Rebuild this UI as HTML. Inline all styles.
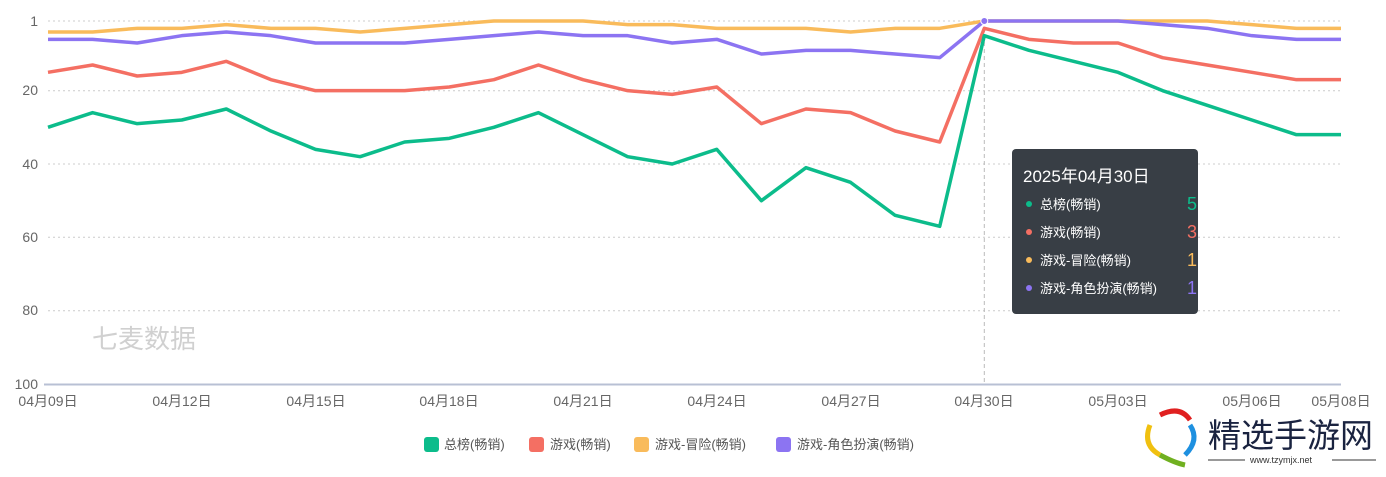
<!DOCTYPE html>
<html><head><meta charset="utf-8"><style>
body{margin:0;background:#fff;width:1386px;height:472px;overflow:hidden;font-family:"Liberation Sans","Noto Sans CJK SC",sans-serif;}
svg text{font-family:"Liberation Sans","Noto Sans CJK SC",sans-serif;}
</style></head><body>
<svg width="1386" height="472" viewBox="0 0 1386 472" xmlns="http://www.w3.org/2000/svg">
<g stroke="#ccc" stroke-dasharray="2,3" stroke-width="1">
<line x1="48" y1="21" x2="1341" y2="21"/>
<line x1="48" y1="90.7" x2="1341" y2="90.7"/>
<line x1="48" y1="164" x2="1341" y2="164"/>
<line x1="48" y1="237.3" x2="1341" y2="237.3"/>
<line x1="48" y1="310.7" x2="1341" y2="310.7"/>
</g>
<line x1="44" y1="384.5" x2="1341" y2="384.5" stroke="#b8c0d4" stroke-width="2"/>
<g font-size="14" fill="#666" text-anchor="end">
<text x="38" y="26">1</text><text x="38" y="95">20</text><text x="38" y="169">40</text><text x="38" y="242">60</text><text x="38" y="315">80</text><text x="38" y="389">100</text>
</g>
<g font-size="14" fill="#666" text-anchor="middle">
<text x="48" y="406">04月09日</text><text x="182" y="406">04月12日</text><text x="316" y="406">04月15日</text><text x="449" y="406">04月18日</text><text x="583" y="406">04月21日</text><text x="717" y="406">04月24日</text><text x="851" y="406">04月27日</text><text x="984" y="406">04月30日</text><text x="1118" y="406">05月03日</text><text x="1252" y="406">05月06日</text><text x="1341" y="406">05月08日</text>
</g>
<text x="92" y="348" font-size="26" fill="#d0d0d0">七麦数据</text>
<line x1="984.3" y1="21" x2="984.3" y2="384" stroke="#bbb" stroke-dasharray="4,3"/>
<g transform="translate(48,17.33) scale(44.586,3.667)" fill="none" stroke-linejoin="round">
<polyline vector-effect="non-scaling-stroke" stroke="#f9bb5b" stroke-width="3.5" points="0,4 1,4 2,3 3,3 4,2 5,3 6,3 7,4 8,3 9,2 10,1 11,1 12,1 13,2 14,2 15,3 16,3 17,3 18,4 19,3 20,3 21,1 22,1 23,1 24,1 25,1 26,1 27,2 28,3 29,3"/>
<polyline vector-effect="non-scaling-stroke" stroke="#8c74f2" stroke-width="3.5" points="0,6 1,6 2,7 3,5 4,4 5,5 6,7 7,7 8,7 9,6 10,5 11,4 12,5 13,5 14,7 15,6 16,10 17,9 18,9 19,10 20,11 21,1 22,1 23,1 24,1 25,2 26,3 27,5 28,6 29,6"/>
<polyline vector-effect="non-scaling-stroke" stroke="#f46f63" stroke-width="3.5" points="0,15 1,13 2,16 3,15 4,12 5,17 6,20 7,20 8,20 9,19 10,17 11,13 12,17 13,20 14,21 15,19 16,29 17,25 18,26 19,31 20,34 21,3 22,6 23,7 24,7 25,11 26,13 27,15 28,17 29,17"/>
<polyline vector-effect="non-scaling-stroke" stroke="#0cbc8b" stroke-width="3.5" points="0,30 1,26 2,29 3,28 4,25 5,31 6,36 7,38 8,34 9,33 10,30 11,26 12,32 13,38 14,40 15,36 16,50 17,41 18,45 19,54 20,57 21,5 22,9 23,12 24,15 25,20 26,24 27,28 28,32 29,32"/>
</g>
<circle cx="984.3" cy="21" r="3.5" fill="#8c74f2" stroke="#fff"/>
<rect x="1012" y="149" width="186" height="165" rx="4" fill="#383e45"/>
<text x="1023" y="182" font-size="17" fill="#fff">2025年04月30日</text>
<g font-size="13" fill="#fff">
<circle cx="1029" cy="204" r="3" fill="#0cbc8b"/><text x="1040" y="209">总榜(畅销)</text>
<circle cx="1029" cy="232" r="3" fill="#f46f63"/><text x="1040" y="237">游戏(畅销)</text>
<circle cx="1029" cy="260" r="3" fill="#f9bb5b"/><text x="1040" y="265">游戏-冒险(畅销)</text>
<circle cx="1029" cy="288" r="3" fill="#8c74f2"/><text x="1040" y="293">游戏-角色扮演(畅销)</text>
</g>
<g font-size="18" text-anchor="middle">
<text x="1192" y="210" fill="#0cbc8b">5</text><text x="1192" y="238" fill="#f46f63">3</text><text x="1192" y="266" fill="#f9bb5b">1</text><text x="1192" y="294" fill="#8c74f2">1</text>
</g>
<g font-size="13" fill="#555">
<rect x="424" y="437" width="15" height="15" rx="3" fill="#0cbc8b"/><text x="444" y="449">总榜(畅销)</text>
<rect x="529" y="437" width="15" height="15" rx="3" fill="#f46f63"/><text x="550" y="449">游戏(畅销)</text>
<rect x="634" y="437" width="15" height="15" rx="3" fill="#f9bb5b"/><text x="655" y="449">游戏-冒险(畅销)</text>
<rect x="776" y="437" width="15" height="15" rx="3" fill="#8c74f2"/><text x="797" y="449">游戏-角色扮演(畅销)</text>
</g>
<g>
<path d="M1160 415 q20 -10 30 5" stroke="#e02020" stroke-width="5" fill="none"/>
<path d="M1190 425 q10 15 -5 30" stroke="#1e90e0" stroke-width="5" fill="none"/>
<path d="M1150 425 q-8 20 10 30" stroke="#f0c010" stroke-width="5" fill="none"/>
<path d="M1160 455 q15 8 25 10" stroke="#70b020" stroke-width="5" fill="none"/>
</g>
<text x="1208" y="447" font-size="33" fill="#1a2340">精选手游网</text>
<line x1="1208" y1="460" x2="1245" y2="460" stroke="#333"/>
<text x="1250" y="463" font-size="9" fill="#333">www.tzymjx.net</text>
<line x1="1332" y1="460" x2="1376" y2="460" stroke="#333"/>
</svg>
</body></html>
